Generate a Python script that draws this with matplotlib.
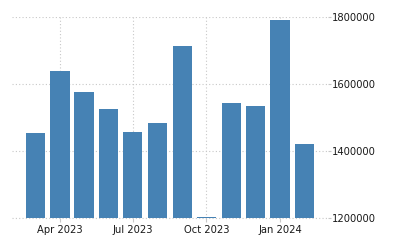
import numpy as np
import pandas as pd
import matplotlib
matplotlib.use("Agg")
import matplotlib.pyplot as plt
import matplotlib.dates as mdates

meses = ["2023-03", "2023-04", "2023-05", "2023-06", "2023-07", "2023-08",
         "2023-09", "2023-10", "2023-11", "2023-12", "2024-01", "2024-02"]
valores = [1454000, 1639000, 1576000, 1525000, 1457000, 1484000,
           1713000, 1203000, 1543000, 1534000, 1791000, 1421000]
yticks = [1200000, 1400000, 1600000, 1800000]

fechas = pd.to_datetime(meses)

fig = plt.figure(figsize=(4, 2.5), dpi=100)
ax = fig.add_axes([0.03, 0.128, 0.79, 0.804])

ax.bar(fechas, np.array(valores) - 1200000, bottom=1200000, width=23.8,
       color="#4682b4", zorder=3)

ax.set_ylim(1200000, 1800000)
ax.set_xlim(pd.Timestamp("2023-01-31"), pd.Timestamp("2024-03-01"))
ax.set_yticks(yticks)
ax.set_yticklabels([str(v) for v in yticks])
ax.yaxis.tick_right()

ax.xaxis.set_major_locator(mdates.MonthLocator(bymonth=[1, 4, 7, 10]))
ax.xaxis.set_major_formatter(mdates.DateFormatter("%b %Y"))

for s in ax.spines.values():
    s.set_visible(False)
ax.grid(True, color="#c8c8c8", linestyle=(0, (1, 2)), linewidth=0.8, zorder=0)
ax.tick_params(axis="both", labelsize=7.2, colors="#c8c8c8", labelcolor="#1a1a1a",
               length=3, pad=2)
ax.tick_params(axis="y", length=2, pad=0.5)
ax.axhline(1200000, color="#c8c8c8", linestyle=(0, (1, 2)), linewidth=0.8,
           zorder=1, clip_on=False)

fig.savefig("out.png", dpi=100)
